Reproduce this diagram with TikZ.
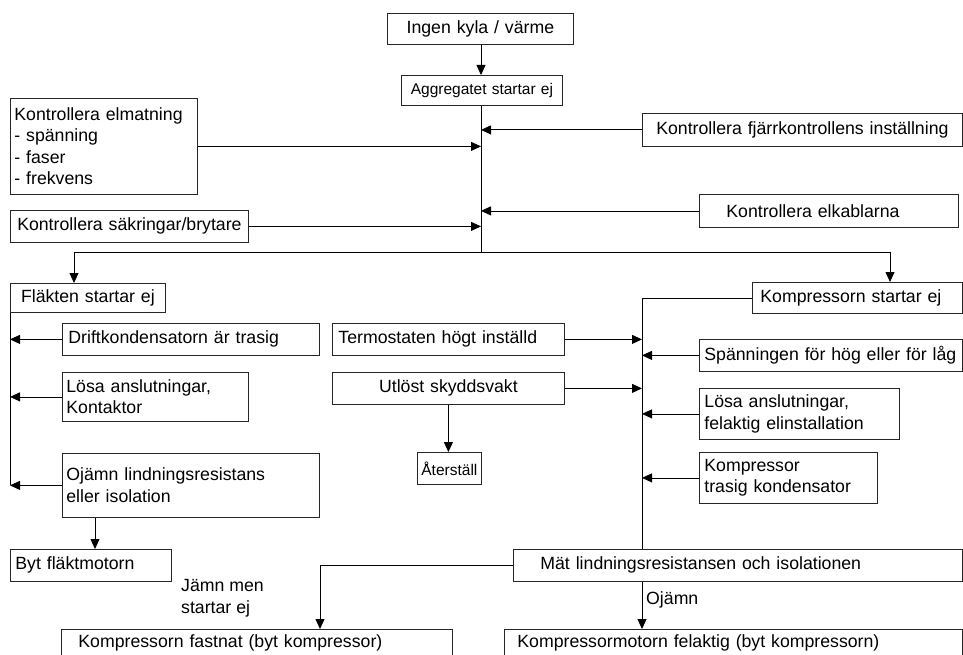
\documentclass[tikz,border=0pt]{standalone}
\usepackage{fontspec}
\setmainfont{Liberation Sans}
\usetikzlibrary{arrows.meta}
\newcommand\dgmain{\fontsize{17.7}{21.5}\selectfont}
\newcommand\dgsmall{\fontsize{15.5}{18}\selectfont}
\begin{document}
\begin{tikzpicture}[x=1pt,y=-1pt,
  bx/.style={draw=black!85, line width=0.8pt, inner ysep=0pt, anchor=north west, font=\dgmain},
  lft/.style={align=left},
  ctr/.style={align=center},
  arr/.style={-{Triangle[length=10pt,width=9pt]}, line width=0.8pt},
  ln/.style={line width=0.8pt},
  lbl/.style={font=\dgmain, inner sep=0pt, align=left}]
\useasboundingbox (0,0) rectangle (963,655);
\clip (0,0) rectangle (963,655);

% top
\node[bx, ctr, inner xsep=4pt, text width=178pt, minimum height=31pt] (ingen) at (387,13) {Ingen kyla / värme};
\node[bx, ctr, inner xsep=4pt, text width=153pt, minimum height=30pt, font=\dgsmall] (agg) at (401,75) {Aggregatet startar ej};
\node[bx, lft, inner xsep=4pt, text width=179pt, minimum height=96pt] (elmat) at (10,98) {Kontrollera elmatning\\- spänning\\- faser\\- frekvens};
\node[bx, ctr, inner xsep=4pt, text width=230pt, minimum height=32pt] (sakr) at (10,210) {Kontrollera säkringar/brytare};
\node[bx, ctr, inner xsep=4pt, text width=312pt, minimum height=33pt] (fjarr) at (642,113) {Kontrollera fjärrkontrollens inställning};
\node[bx, lft, inner xsep=27pt, text width=205pt, minimum height=33pt] (elkab) at (699,194) {Kontrollera elkablarna};

% left branch
\node[bx, ctr, inner xsep=4pt, text width=147pt, minimum height=29pt] (flakt) at (10,283) {Fläkten startar ej};
\node[bx, lft, inner xsep=6pt, text width=245pt, minimum height=32pt] (drift) at (62,323) {Driftkondensatorn är trasig};
\node[bx, lft, inner xsep=4pt, text width=178pt, minimum height=49pt] (losa1) at (62,372) {Lösa anslutningar,\\Kontaktor};
\node[bx, lft, inner xsep=4pt, text width=249pt, minimum height=64pt] (ojamn) at (62,453) {Ojämn lindningsresistans\\eller isolation};
\node[bx, lft, inner xsep=5pt, text width=151pt, minimum height=32pt] (byt) at (10,549) {Byt fläktmotorn};

% middle
\node[bx, lft, inner xsep=6pt, text width=220pt, minimum height=32pt] (termo) at (332,323) {Termostaten högt inställd};
\node[bx, ctr, inner xsep=4pt, text width=224pt, minimum height=32pt] (utlost) at (332,372) {Utlöst skyddsvakt};
\node[bx, ctr, inner xsep=1pt, text width=62pt, minimum height=32pt, font=\dgsmall] (ater) at (417,452) {Återställ};

% right branch
\node[bx, lft, inner xsep=8pt, text width=194pt, minimum height=31pt] (komp) at (752,282) {Kompressorn startar ej};
\node[bx, lft, inner xsep=5pt, text width=253pt, minimum height=32pt] (span) at (699,339) {Spänningen för hög eller för låg};
\node[bx, lft, inner xsep=5pt, text width=190pt, minimum height=51pt] (losa2) at (699,388) {Lösa anslutningar,\\felaktig elinstallation};
\node[bx, lft, inner xsep=5pt, text width=168pt, minimum height=51pt] (kompk) at (699,452) {Kompressor\\trasig kondensator};
\node[bx, lft, inner xsep=27pt, text width=395pt, minimum height=32pt] (mat) at (513,549) {Mät lindningsresistansen och isolationen};

% bottom
\node[bx, lft, inner xsep=17pt, text width=357pt, text height=18pt, text depth=14pt] (fastnat) at (61,629) {Kompressorn fastnat (byt kompressor)};
\node[bx, lft, inner xsep=13pt, text width=432pt, text height=18pt, text depth=14pt] (felaktig) at (504,629) {Kompressormotorn felaktig (byt kompressorn)};

% labels
\node[lbl, anchor=west] (ojl) at (646,600) {Ojämn};
\node[lbl, anchor=west] (jms) at (181,598) {Jämn men\\startar ej};

% coordinates
\coordinate (sp) at (481,252);
\coordinate (jl) at (74,252);
\coordinate (jr) at (890,252);
\coordinate (ls) at (10,485);
\coordinate (rs) at (642,297);
\coordinate (fk) at (320,629);
\coordinate (ob) at ([xshift=33pt]ojamn.south west);

% connectors
\draw[arr] (ingen.south -| sp) -- (agg.north -| sp);
\draw[ln] (agg.south -| sp) -- (sp);
\draw[ln] (jl) -- (jr);
\draw[arr] (jl) -- (jl |- flakt.north);
\draw[arr] (jr) -- (jr |- komp.north);
\draw[arr] (elmat.east) -- (elmat.east -| sp);
\draw[arr] (sakr.east) -- (sakr.east -| sp);
\draw[arr] (fjarr.west) -- (fjarr.west -| sp);
\draw[arr] (elkab.west) -- (elkab.west -| sp);

\draw[ln] (flakt.south west) -- (ls);
\draw[arr] (drift.west) -- (drift.west -| ls);
\draw[arr] (losa1.west) -- (losa1.west -| ls);
\draw[arr] (ojamn.west) -- (ojamn.west -| ls);
\draw[arr] (ob) -- (ob |- byt.north);

\draw[ln] (komp.west) -- (komp.west -| rs) -- (rs |- mat.north);
\draw[arr] (termo.east) -- (termo.east -| rs);
\draw[arr] (utlost.east) -- (utlost.east -| rs);
\draw[arr] (utlost.south) -- (utlost.south |- ater.north);
\draw[arr] (span.west) -- (span.west -| rs);
\draw[arr] (losa2.west) -- (losa2.west -| rs);
\draw[arr] (kompk.west) -- (kompk.west -| rs);
\draw[arr] (mat.west) -| (fk);
\draw[arr] (mat.south -| rs) -- (felaktig.north -| rs);
\end{tikzpicture}
\end{document}
